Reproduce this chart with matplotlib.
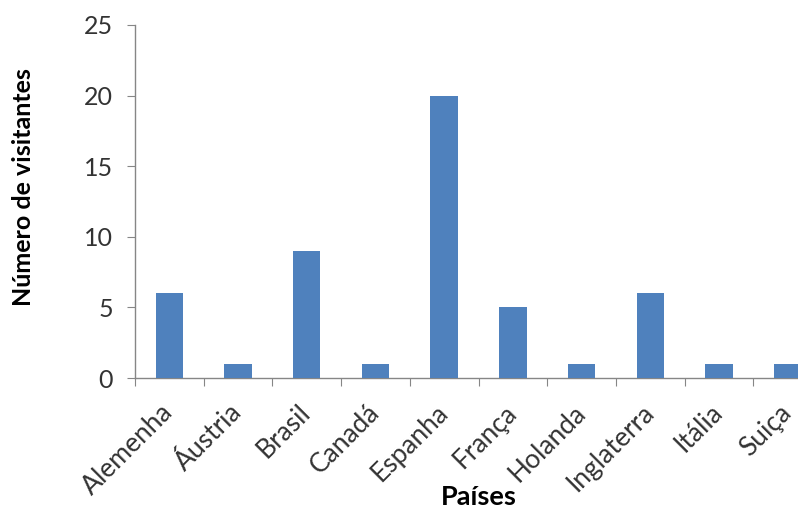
import matplotlib
matplotlib.use("Agg")
import matplotlib.pyplot as plt
import numpy as np

categories = ["Alemenha", "Áustria", "Brasil", "Canadá", "Espanha", "França",
              "Holanda", "Inglaterra", "Itália", "Suiça"]
values = [6, 1, 9, 1, 20, 5, 1, 6, 1, 1]
yticks = [0, 5, 10, 15, 20, 25]

plt.rcParams['font.family'] = ['Lato', 'DejaVu Sans']

fig = plt.figure(figsize=(7.98, 5.09), dpi=100)
ax = fig.add_axes([135/798, 1-378/509, 687/798, 353/509])
x = np.arange(len(categories))
ax.bar(x, values, width=0.4, color="#4F81BD", zorder=3)
ax.set_xlim(-0.5, len(categories)-0.5)
ax.set_ylim(0, 25)
ax.set_yticks(yticks)
ax.set_yticklabels([str(t) for t in yticks], fontsize=18, color="#333333")
ax.set_xticks(np.arange(len(categories)+1)-0.5)
ax.set_xticklabels([])
ax.set_xticks(x, minor=True)
ax.set_xticklabels(categories, minor=True, rotation=45, ha='right', va='center',
                   rotation_mode='anchor', fontsize=19, color="#333333")
ax.tick_params(axis='x', which='minor', length=0, pad=22)
ax.tick_params(axis='x', which='major', length=6, color="#868686", direction='out')
ax.tick_params(axis='y', length=6, color="#868686", direction='out', pad=10)
for s in ['top', 'right']:
    ax.spines[s].set_visible(False)
for s in ['left', 'bottom']:
    ax.spines[s].set_color("#868686")
    ax.spines[s].set_linewidth(1)
ax.set_ylabel("Número de visitantes", fontsize=18, fontweight='bold')
ax.yaxis.set_label_coords((35-135)/687, 1-(187.5-25)/353)
fig.text(479/798, 1-497/509, "Países", fontsize=19.5, fontweight='bold', ha='center', va='center')
fig.savefig("out.png", dpi=100)
